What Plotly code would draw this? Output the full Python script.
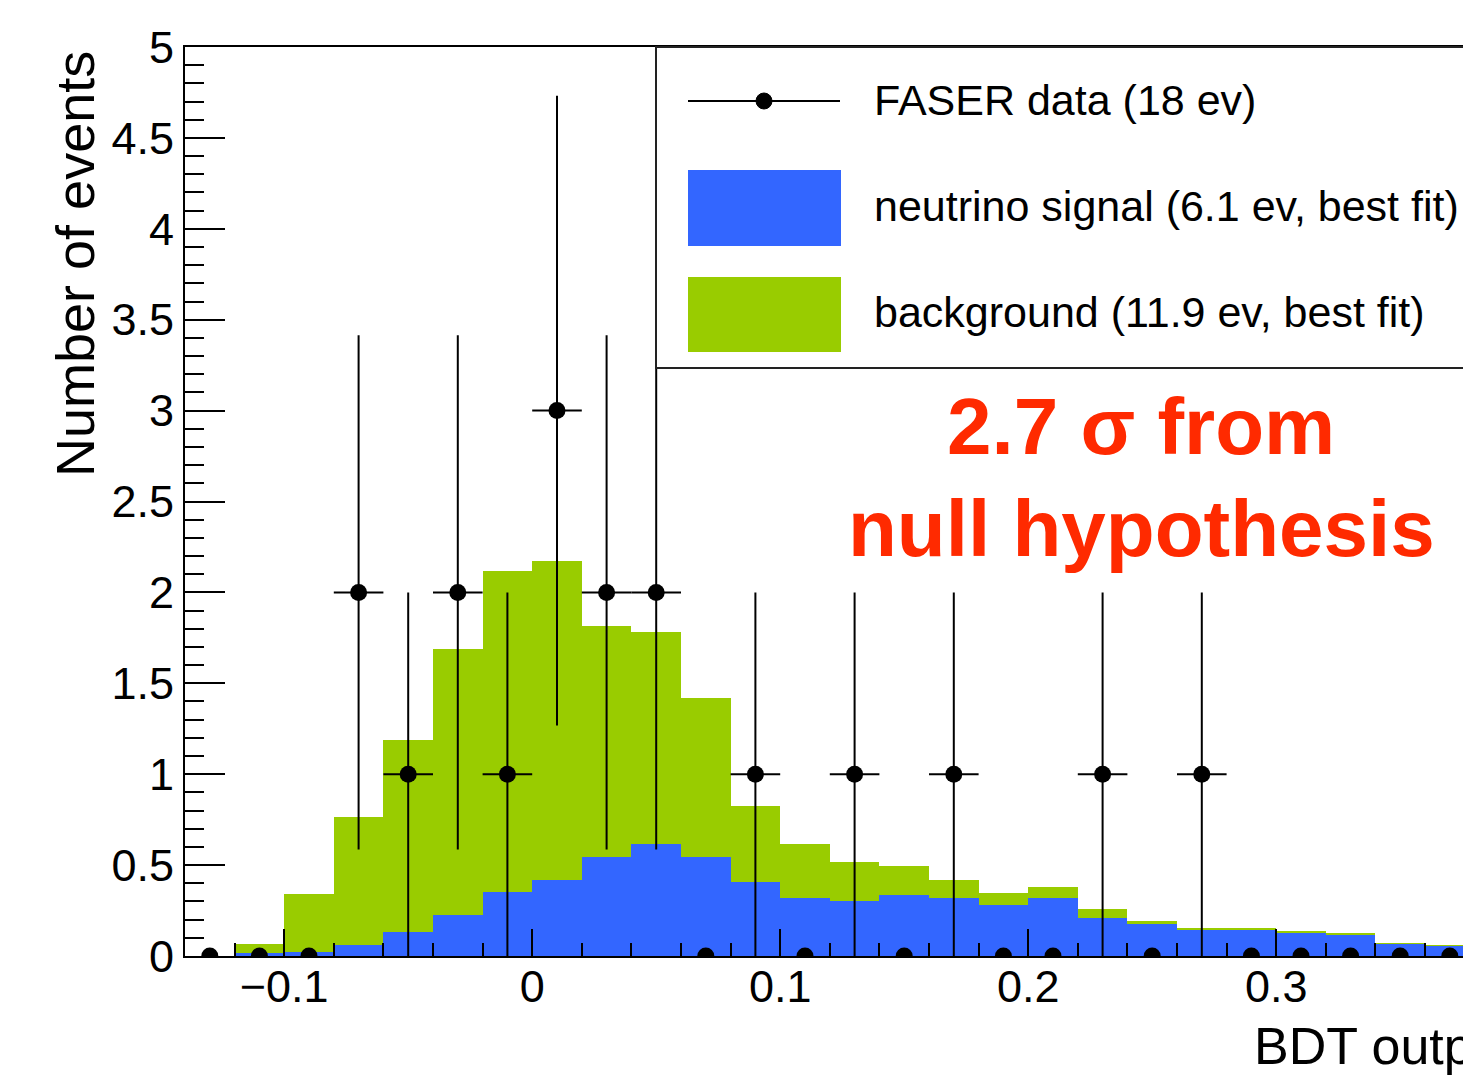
import plotly.graph_objects as go
import numpy as np

# ---- data ----
bin_centers = [-0.13, -0.11, -0.09, -0.07, -0.05, -0.03, -0.01, 0.01, 0.03, 0.05,
               0.07, 0.09, 0.11, 0.13, 0.15, 0.17, 0.19, 0.21, 0.23, 0.25,
               0.27, 0.29, 0.31, 0.33, 0.35, 0.37]
bin_width = 0.02
data_counts = [0, 0, 0, 2, 1, 2, 1, 3, 2, 2,
               0, 1, 0, 1, 0, 1, 0, 0, 1, 0,
               1, 0, 0, 0, 0, 0]
signal = [0.0, 0.018, 0.022, 0.06, 0.13, 0.225, 0.35, 0.42, 0.546, 0.614,
          0.546, 0.409, 0.321, 0.304, 0.334, 0.317, 0.28, 0.317, 0.207, 0.176,
          0.148, 0.148, 0.13, 0.119, 0.066, 0.055]
background = [0.0, 0.048, 0.318, 0.705, 1.06, 1.465, 1.77, 1.75, 1.269, 1.17,
              0.871, 0.416, 0.295, 0.211, 0.161, 0.101, 0.065, 0.064, 0.05, 0.017,
              0.004, 0.004, 0.007, 0.003, 0.002, 0.001]

legend_labels = ["FASER data (18 ev)",
                 "neutrino signal (6.1 ev, best fit)",
                 "background (11.9 ev, best fit)"]
annotation_lines = ["2.7 σ from", "null hypothesis"]
x_title = "BDT output"
y_title = "Number of events"

BLUE = "#3366FF"
GREEN = "#99CC00"
RED = "#FF2A00"
FONT = "Liberation Sans, Arial, Helvetica, sans-serif"

# layout geometry (pixels)
W, H = 1463, 1079
L, R, T, B = 185, 0, 47, 123
PW = W - L - R
PH = H - T - B


def px(p):
    return (p - L) / PW


def py(p):
    return (H - B - p) / PH


err_y = [float(np.sqrt(n)) for n in data_counts]
err_x = [bin_width / 2 if n > 0 else 0 for n in data_counts]

fig = go.Figure()
fig.add_trace(go.Bar(x=bin_centers, y=signal, width=bin_width,
                     marker=dict(color=BLUE, line=dict(width=0)),
                     name=legend_labels[1], showlegend=False))
fig.add_trace(go.Bar(x=bin_centers, y=background, width=bin_width,
                     marker=dict(color=GREEN, line=dict(width=0)),
                     name=legend_labels[2], showlegend=False))
fig.add_trace(go.Scatter(x=bin_centers, y=data_counts, mode="markers",
                         marker=dict(color="black", size=17),
                         error_y=dict(type="data", array=err_y, color="black",
                                      thickness=2, width=0),
                         error_x=dict(type="data", array=err_x, color="black",
                                      thickness=2, width=0),
                         name=legend_labels[0], showlegend=False))

shapes = []
annotations = []

# legend box
shapes.append(dict(type="rect", xref="paper", yref="paper",
                   x0=px(656), x1=1.05, y0=py(368), y1=py(47),
                   line=dict(color="#222222", width=2), fillcolor="white",
                   layer="above"))
# legend entry 1: line with marker
shapes.append(dict(type="line", xref="paper", yref="paper",
                   x0=px(688), x1=px(840), y0=py(101), y1=py(101),
                   line=dict(color="black", width=2), layer="above"))
shapes.append(dict(type="circle", xref="paper", yref="paper",
                   xsizemode="pixel", ysizemode="pixel",
                   xanchor=px(764), yanchor=py(101),
                   x0=-8, x1=8, y0=-8, y1=8,
                   fillcolor="black", line=dict(color="black", width=1),
                   layer="above"))
# legend entry 2/3: swatches
shapes.append(dict(type="rect", xref="paper", yref="paper",
                   x0=px(688), x1=px(841), y0=py(246), y1=py(170),
                   fillcolor=BLUE, line=dict(width=0), layer="above"))
shapes.append(dict(type="rect", xref="paper", yref="paper",
                   x0=px(688), x1=px(841), y0=py(352), y1=py(277),
                   fillcolor=GREEN, line=dict(width=0), layer="above"))

for lab, yc in zip(legend_labels, [100, 206, 312]):
    annotations.append(dict(text=lab, xref="paper", yref="paper",
                            x=px(872), y=py(yc), xanchor="left", yanchor="middle",
                            showarrow=False, font=dict(family=FONT, size=43, color="black")))

# red text
for line, yc in zip(annotation_lines, [426, 528]):
    annotations.append(dict(text="<b>" + line + "</b>", xref="paper", yref="paper",
                            x=px(1141), y=py(yc), xanchor="center", yanchor="middle",
                            showarrow=False, font=dict(family=FONT, size=80, color=RED)))

# axis titles
annotations.append(dict(text=y_title, xref="paper", yref="paper",
                        x=0, xshift=-110, y=1, yshift=-2,
                        xanchor="center", yanchor="top", textangle=-90,
                        showarrow=False, font=dict(family=FONT, size=54, color="black")))
annotations.append(dict(text=x_title, xref="paper", yref="paper",
                        x=px(1252), y=py(1046), xanchor="left", yanchor="middle",
                        showarrow=False, font=dict(family=FONT, size=52, color="black")))

fig.update_layout(
    width=W, height=H,
    margin=dict(l=L, r=R, t=T, b=B, pad=0),
    paper_bgcolor="white", plot_bgcolor="white",
    barmode="stack", bargap=0,
    showlegend=False,
    shapes=shapes, annotations=annotations,
    font=dict(family=FONT, color="black"),
)
fig.update_xaxes(range=[-0.14, -0.14 + PW / 2480.0], showgrid=False, zeroline=False,
                 showline=True, linecolor="black", linewidth=2, mirror=True,
                 ticks="inside", ticklen=27, tickwidth=2, tickcolor="black",
                 tick0=0, dtick=0.1, tickfont=dict(family=FONT, size=45),
                 ticklabelstandoff=-10,
                 minor=dict(ticks="inside", ticklen=13, tickwidth=2, tickcolor="black",
                            tick0=0, dtick=0.02, showgrid=False))
fig.update_yaxes(range=[0, 5], showgrid=False, zeroline=False,
                 showline=True, linecolor="black", linewidth=2, mirror=False,
                 ticks="inside", ticklen=40, tickwidth=2, tickcolor="black",
                 tick0=0, dtick=0.5, tickfont=dict(family=FONT, size=45),
                 minor=dict(ticks="inside", ticklen=19, tickwidth=2, tickcolor="black",
                            tick0=0, dtick=0.1, showgrid=False))

fig.write_html("out.html")
